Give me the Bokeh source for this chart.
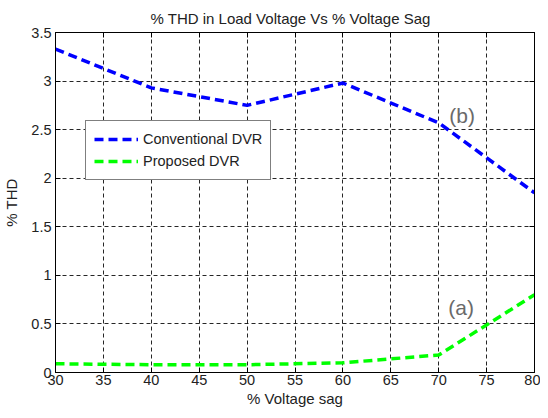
from bokeh.plotting import figure
from bokeh.models import (Range1d, FixedTicker, LinearAxis, CustomJSTickFormatter,
                          Legend, LegendItem, ColumnDataSource)
from bokeh.core.properties import value
from bokeh.embed import file_html
from bokeh.resources import INLINE

# ---- data ----
sag = [30, 40, 50, 60, 70, 80]
conventional = [3.33, 2.93, 2.75, 2.98, 2.57, 1.85]
proposed = [0.09, 0.08, 0.08, 0.10, 0.18, 0.80]
x_ticks = [30, 35, 40, 45, 50, 55, 60, 65, 70, 75, 80]
y_ticks = [0, 0.5, 1, 1.5, 2, 2.5, 3, 3.5]
y_tick_labels = ["0", "0.5", "1", "1.5", "2", "2.5", "3", "3.5"]
ann_text = ["(b)", "(a)"]
ann_x = [71.1, 71.0]
ann_y = [2.65, 0.67]

FONT = "Liberation Sans"
FS = "14.5px"

p = figure(width=540, height=410, output_backend="svg", toolbar_location=None,
           x_range=Range1d(30, 80), y_range=Range1d(0, 3.5),
           min_border_left=53, min_border_right=6, min_border_top=32, min_border_bottom=38,
           background_fill_color="white", border_fill_color="white")

p.title.text = "% THD in Load Voltage Vs % Voltage Sag"
p.title.text_font = FONT
p.title.text_font_size = "15px"
p.title.text_font_style = "normal"
p.title.align = "left"
p.title.offset = 95
p.title.standoff = 12
p.title.text_color = "#222222"

p.outline_line_color = "black"
p.outline_line_width = 1

for ax in (p.xaxis[0], p.yaxis[0]):
    ax.major_tick_in = 5
    ax.major_tick_out = 0
    ax.minor_tick_line_color = None
    ax.major_label_text_font = FONT
    ax.major_label_text_font_size = FS
    ax.major_label_text_color = "#222222"
    ax.axis_label_text_font = FONT
    ax.axis_label_text_font_size = "15px"
    ax.axis_label_text_font_style = "normal"
    ax.axis_label_text_color = "#222222"
    ax.axis_line_color = "black"

p.xaxis.ticker = FixedTicker(ticks=x_ticks)
p.yaxis.ticker = FixedTicker(ticks=y_ticks)
p.yaxis.major_label_overrides = {t: l for t, l in zip(y_ticks, y_tick_labels)}
p.xaxis.axis_label = "% Voltage sag"
p.yaxis.axis_label = "% THD"
p.xaxis.major_label_standoff = 2
p.xaxis.axis_label_standoff = 2
p.yaxis.major_label_standoff = 4
p.yaxis.axis_label_standoff = 8

blank = CustomJSTickFormatter(code="return ''")
top_ax = LinearAxis(ticker=FixedTicker(ticks=x_ticks), formatter=blank,
                    major_tick_in=5, major_tick_out=0, minor_tick_line_color=None,
                    major_label_standoff=0)
right_ax = LinearAxis(ticker=FixedTicker(ticks=y_ticks), formatter=blank,
                      major_tick_in=5, major_tick_out=0, minor_tick_line_color=None,
                      major_label_standoff=0)
p.add_layout(top_ax, "above")
p.add_layout(right_ax, "right")

p.xgrid.ticker = FixedTicker(ticks=x_ticks)
p.ygrid.ticker = FixedTicker(ticks=y_ticks)
for g in (p.xgrid[0], p.ygrid[0]):
    g.grid_line_color = "black"
    g.grid_line_dash = "4 3"
    g.grid_line_width = 1
    g.grid_line_alpha = 0.85

src = ColumnDataSource(dict(x=sag, c=conventional, pr=proposed))
r1 = p.line("x", "c", source=src, line_color="#0000FF", line_width=3.5, line_dash="9 5")
r2 = p.line("x", "pr", source=src, line_color="#00FF00", line_width=3.5, line_dash="9 5")

ann = ColumnDataSource(dict(x=ann_x, y=ann_y, t=ann_text))
p.text("x", "y", text="t", source=ann, text_font=value(FONT), text_font_size="21px",
       text_color="#6a6a6a", text_baseline="middle", text_align="left")

legend = Legend(items=[LegendItem(label="Conventional DVR", renderers=[r1]),
                       LegendItem(label="Proposed DVR", renderers=[r2])],
                location=(30, 192))
legend.label_text_font = FONT
legend.label_text_font_size = FS
legend.label_text_color = "#222222"
legend.glyph_width = 44
legend.glyph_height = 20
legend.label_height = 20
legend.label_standoff = 5
legend.padding = 8
legend.spacing = 2
legend.margin = 0
legend.border_line_color = "black"
legend.border_line_width = 1
legend.background_fill_color = "white"
legend.background_fill_alpha = 1
p.add_layout(legend, "center")

open("out.html", "w").write(file_html(p, INLINE))
